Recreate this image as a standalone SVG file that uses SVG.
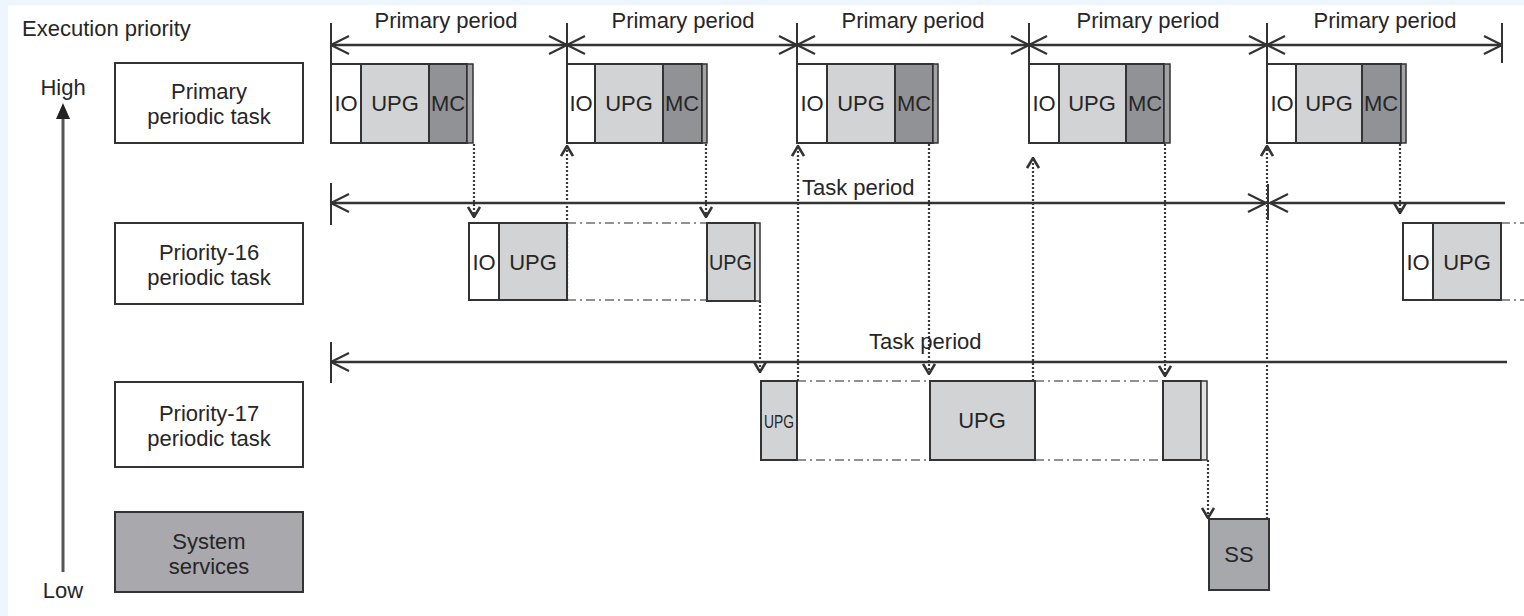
<svg xmlns="http://www.w3.org/2000/svg" width="1524" height="616" viewBox="0 0 1524 616">
<style>
text{font-family:"Liberation Sans",Arial,sans-serif;font-size:22px;fill:#262626}
.c{text-anchor:middle}
.lbl{fill:#fff;stroke:#333;stroke-width:2}
.sys{fill:#a9a9ad;stroke:#333;stroke-width:2}
.io{fill:#fff;stroke:#333;stroke-width:2}
.upg{fill:#d2d3d5;stroke:#333;stroke-width:2}
.mc{fill:#919296;stroke:#333;stroke-width:2}
.st{fill:#a3a3a6;stroke:#333;stroke-width:1.5}
.st2{fill:#e2e2e3;stroke:#333;stroke-width:1.5}
.ss{fill:#a7a8ac;stroke:#333;stroke-width:2}
.tick{stroke:#333;stroke-width:2}
.per{stroke:#333;stroke-width:2.5;fill:none;marker-start:url(#pa);marker-end:url(#pa)}
.perl{stroke:#333;stroke-width:2.5;fill:none;marker-start:url(#pa)}
.dot{stroke:#3a3a3a;stroke-width:2.2;stroke-dasharray:2 2;fill:none;marker-end:url(#da)}
.dd{stroke:#6e6e6e;stroke-width:1.6;stroke-dasharray:9 4 2 4;fill:none}
</style>
<defs>
<marker id="pa" viewBox="0 0 20 20" refX="19" refY="10" markerWidth="20" markerHeight="20" markerUnits="userSpaceOnUse" orient="auto-start-reverse">
<path d="M1,1 L19,10 L1,19" fill="none" stroke="#333" stroke-width="2.2"/>
</marker>
<marker id="da" viewBox="0 0 12 14" refX="11" refY="7" markerWidth="12" markerHeight="14" markerUnits="userSpaceOnUse" orient="auto">
<path d="M1,1 L11,7 L1,13" fill="none" stroke="#333" stroke-width="2.6"/>
</marker>
</defs>
<rect x="0" y="0" width="1524" height="616" fill="#edf6fc"/>
<rect x="8" y="5" width="1516" height="611" fill="#fff"/>

<g id="axis">
<text x="22" y="36">Execution priority</text>
<text class="c" x="63" y="95">High</text>
<line x1="63" y1="116" x2="63" y2="572" stroke="#555" stroke-width="3"/>
<polygon points="63,103 56,119 70,119" fill="#222"/>
<text class="c" x="63" y="598">Low</text>
</g>

<g id="lbl-primary"><rect class="lbl" x="115" y="63" width="188" height="80"/><text class="c" x="209" y="99">Primary</text><text class="c" x="209" y="124">periodic task</text></g>
<g id="lbl-p16"><rect class="lbl" x="115" y="223" width="188" height="81"/><text class="c" x="209" y="260">Priority-16</text><text class="c" x="209" y="285">periodic task</text></g>
<g id="lbl-p17"><rect class="lbl" x="115" y="382" width="188" height="85"/><text class="c" x="209" y="421">Priority-17</text><text class="c" x="209" y="446">periodic task</text></g>
<g id="lbl-sys"><rect class="sys" x="115" y="512" width="188" height="80"/><text class="c" x="209" y="549">System</text><text class="c" x="209" y="574">services</text></g>

<g id="connectors">
<line class="tick" x1="331" y1="23" x2="331" y2="64"/>
<line class="tick" x1="567" y1="23" x2="567" y2="64"/>
<line class="tick" x1="797" y1="23" x2="797" y2="64"/>
<line class="tick" x1="1029" y1="23" x2="1029" y2="64"/>
<line class="tick" x1="1267" y1="23" x2="1267" y2="64"/>
<line class="tick" x1="1502" y1="23" x2="1502" y2="63"/>
<line class="per" x1="331" y1="45" x2="567" y2="45"/>
<line class="per" x1="567" y1="45" x2="797" y2="45"/>
<line class="per" x1="797" y1="45" x2="1029" y2="45"/>
<line class="per" x1="1029" y1="45" x2="1267" y2="45"/>
<line class="per" x1="1267" y1="45" x2="1502" y2="45"/>
<line class="tick" x1="331" y1="183" x2="331" y2="225"/>
<line class="tick" x1="1268" y1="184" x2="1268" y2="220"/>
<line class="per" x1="331" y1="203" x2="1266" y2="203"/>
<line class="perl" x1="1270" y1="203" x2="1505" y2="203"/>
<line class="tick" x1="331" y1="342" x2="331" y2="383"/>
<line class="perl" x1="331" y1="362" x2="1507" y2="362"/>
<line class="dd" x1="567" y1="223" x2="707" y2="223"/>
<line class="dd" x1="567" y1="300" x2="707" y2="300"/>
<line class="dd" x1="1501" y1="223" x2="1524" y2="223"/>
<line class="dd" x1="1501" y1="300" x2="1524" y2="300"/>
<line class="dd" x1="797" y1="381" x2="930" y2="381"/>
<line class="dd" x1="797" y1="460" x2="930" y2="460"/>
<line class="dd" x1="1035" y1="381" x2="1163" y2="381"/>
<line class="dd" x1="1035" y1="460" x2="1163" y2="460"/>
<line class="dot" x1="474" y1="144" x2="474" y2="217"/>
<line class="dot" x1="567" y1="300" x2="567" y2="146"/>
<line class="dot" x1="706" y1="144" x2="706" y2="217"/>
<line class="dot" x1="760" y1="301" x2="760" y2="372"/>
<line class="dot" x1="798" y1="381" x2="798" y2="146"/>
<line class="dot" x1="929" y1="144" x2="929" y2="374"/>
<line class="dot" x1="1033" y1="381" x2="1033" y2="158"/>
<line class="dot" x1="1165" y1="144" x2="1165" y2="376"/>
<line class="dot" x1="1208" y1="460" x2="1208" y2="518"/>
<line class="dot" x1="1267" y1="519" x2="1267" y2="146"/>
<line class="dot" x1="1400" y1="144" x2="1400" y2="213"/>
<text x="802" y="195">Task period</text>
<text x="869" y="349">Task period</text>
<text class="c" x="446" y="28">Primary period</text>
<text class="c" x="683" y="28">Primary period</text>
<text class="c" x="913" y="28">Primary period</text>
<text class="c" x="1148" y="28">Primary period</text>
<text class="c" x="1385" y="28">Primary period</text>
</g>

<g id="pri-1"><rect class="io" x="331" y="64" width="30" height="79"/><rect class="upg" x="361" y="64" width="68" height="79"/><rect class="mc" x="429" y="64" width="38" height="79"/><rect class="st" x="467" y="64" width="6" height="79"/>
<text class="c" x="346" y="111">IO</text><text class="c" x="395" y="111">UPG</text><text class="c" x="448" y="111">MC</text></g>
<g id="pri-2"><rect class="io" x="567" y="64" width="28" height="79"/><rect class="upg" x="595" y="64" width="68" height="79"/><rect class="mc" x="663" y="64" width="39" height="79"/><rect class="st" x="702" y="64" width="5" height="79"/>
<text class="c" x="581" y="111">IO</text><text class="c" x="629" y="111">UPG</text><text class="c" x="682" y="111">MC</text></g>
<g id="pri-3"><rect class="io" x="797" y="64" width="30" height="79"/><rect class="upg" x="827" y="64" width="68" height="79"/><rect class="mc" x="895" y="64" width="38" height="79"/><rect class="st" x="933" y="64" width="5" height="79"/>
<text class="c" x="812" y="111">IO</text><text class="c" x="861" y="111">UPG</text><text class="c" x="914" y="111">MC</text></g>
<g id="pri-4"><rect class="io" x="1029" y="64" width="30" height="79"/><rect class="upg" x="1059" y="64" width="67" height="79"/><rect class="mc" x="1126" y="64" width="38" height="79"/><rect class="st" x="1164" y="64" width="6" height="79"/>
<text class="c" x="1044" y="111">IO</text><text class="c" x="1092" y="111">UPG</text><text class="c" x="1145" y="111">MC</text></g>
<g id="pri-5"><rect class="io" x="1267" y="64" width="29" height="79"/><rect class="upg" x="1296" y="64" width="66" height="79"/><rect class="mc" x="1362" y="64" width="39" height="79"/><rect class="st" x="1401" y="64" width="5" height="79"/>
<text class="c" x="1282" y="111">IO</text><text class="c" x="1329" y="111">UPG</text><text class="c" x="1381" y="111">MC</text></g>

<g id="p16-1"><rect class="io" x="469" y="223" width="30" height="77"/><rect class="upg" x="499" y="223" width="68" height="77"/>
<text class="c" x="484" y="270">IO</text><text class="c" x="533" y="270">UPG</text></g>
<g id="p16-2"><rect class="upg" x="707" y="223" width="48" height="78"/><rect class="st2" x="755" y="223" width="5" height="78"/>
<text x="709" y="270" textLength="43" lengthAdjust="spacingAndGlyphs">UPG</text></g>
<g id="p16-3"><rect class="io" x="1403" y="223" width="30" height="77"/><rect class="upg" x="1433" y="223" width="68" height="77"/>
<text class="c" x="1418" y="270">IO</text><text class="c" x="1467" y="270">UPG</text></g>

<g id="p17-1"><rect class="upg" x="761" y="381" width="36" height="79"/>
<text x="764" y="428" textLength="30" lengthAdjust="spacingAndGlyphs" style="font-size:19px">UPG</text></g>
<g id="p17-2"><rect class="upg" x="930" y="381" width="105" height="79"/>
<text class="c" x="982" y="428">UPG</text></g>
<g id="p17-3"><rect class="upg" x="1163" y="381" width="38" height="79"/><rect class="st2" x="1201" y="381" width="6" height="79"/></g>

<g id="ss"><rect class="ss" x="1209" y="519" width="60" height="71"/>
<text class="c" x="1239" y="562">SS</text></g>
</svg>
